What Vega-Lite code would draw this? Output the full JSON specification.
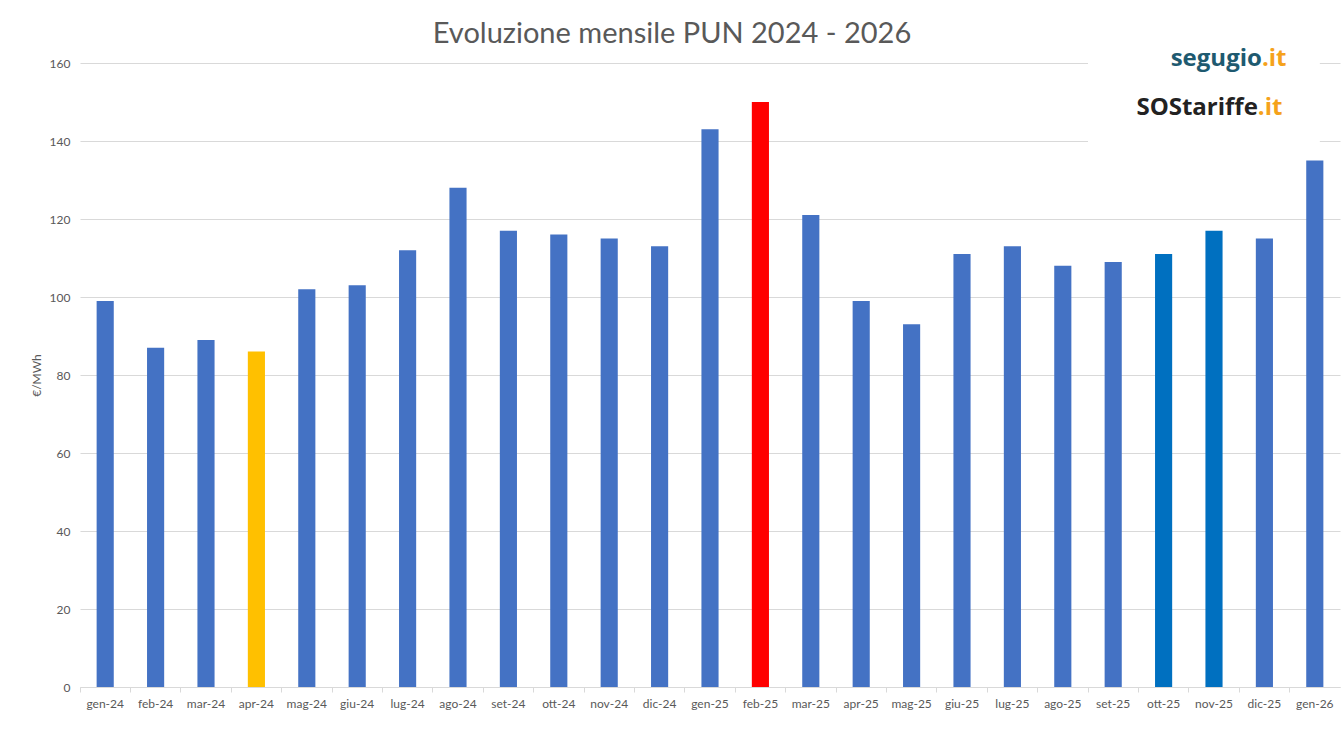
{
  "$schema": "https://vega.github.io/schema/vega-lite/v6.json",
  "autosize": {"type": "none"},
  "width": 1260,
  "height": 624,
  "padding": {"left": 80, "top": 63, "right": 4, "bottom": 49},
  "background": "white",
  "title": {
    "text": "Evoluzione mensile PUN 2024 - 2026",
    "font": "Lato",
    "fontSize": 29,
    "fontWeight": "normal",
    "color": "#595959",
    "anchor": "middle",
    "offset": -9,
    "dx": -38
  },
  "config": {
    "view": {"stroke": null},
    "font": "Lato",
    "axis": {"labelFont": "Lato", "titleFont": "Lato", "labelColor": "#595959", "titleColor": "#595959"}
  },
  "data": {
    "values": [
      {"mese": "gen-24", "pun": 99, "tipo": "base"},
      {"mese": "feb-24", "pun": 87, "tipo": "base"},
      {"mese": "mar-24", "pun": 89, "tipo": "base"},
      {"mese": "apr-24", "pun": 86, "tipo": "minimo"},
      {"mese": "mag-24", "pun": 102, "tipo": "base"},
      {"mese": "giu-24", "pun": 103, "tipo": "base"},
      {"mese": "lug-24", "pun": 112, "tipo": "base"},
      {"mese": "ago-24", "pun": 128, "tipo": "base"},
      {"mese": "set-24", "pun": 117, "tipo": "base"},
      {"mese": "ott-24", "pun": 116, "tipo": "base"},
      {"mese": "nov-24", "pun": 115, "tipo": "base"},
      {"mese": "dic-24", "pun": 113, "tipo": "base"},
      {"mese": "gen-25", "pun": 143, "tipo": "base"},
      {"mese": "feb-25", "pun": 150, "tipo": "massimo"},
      {"mese": "mar-25", "pun": 121, "tipo": "base"},
      {"mese": "apr-25", "pun": 99, "tipo": "base"},
      {"mese": "mag-25", "pun": 93, "tipo": "base"},
      {"mese": "giu-25", "pun": 111, "tipo": "base"},
      {"mese": "lug-25", "pun": 113, "tipo": "base"},
      {"mese": "ago-25", "pun": 108, "tipo": "base"},
      {"mese": "set-25", "pun": 109, "tipo": "base"},
      {"mese": "ott-25", "pun": 111, "tipo": "recente"},
      {"mese": "nov-25", "pun": 117, "tipo": "recente"},
      {"mese": "dic-25", "pun": 115, "tipo": "base"},
      {"mese": "gen-26", "pun": 135, "tipo": "base"}
    ]
  },
  "layer": [
    {
      "mark": {"type": "bar", "width": {"band": 0.34}},
      "encoding": {
        "x": {
          "field": "mese",
          "type": "nominal",
          "sort": null,
          "scale": {"paddingInner": 0, "paddingOuter": 0},
          "axis": {
            "title": null,
            "labelAngle": 0,
            "labelFontSize": 12,
            "bandPosition": 0,
            "domainColor": "#D9D9D9",
            "tickColor": "#D9D9D9",
            "tickSize": 5,
            "labelPadding": 6,
            "grid": false
          }
        },
        "y": {
          "field": "pun",
          "type": "quantitative",
          "scale": {"domain": [0, 160]},
          "axis": {
            "title": "€/MWh",
            "titleFontSize": 12,
            "titleFontWeight": "normal",
            "titlePadding": 6,
            "values": [0, 20, 40, 60, 80, 100, 120, 140, 160],
            "labelFontSize": 12,
            "labelPadding": 10,
            "ticks": false,
            "domain": false,
            "gridColor": "#D9D9D9"
          }
        },
        "color": {
          "field": "tipo",
          "type": "nominal",
          "scale": {
            "domain": ["base", "minimo", "massimo", "recente"],
            "range": ["#4472C4", "#FFC000", "#FF0000", "#0070C0"]
          },
          "legend": null
        }
      }
    },
    {
      "data": {"values": [{}]},
      "mark": {"type": "rect", "fill": "white", "clip": false},
      "encoding": {
        "x": {"datum": "set-25", "bandPosition": 0},
        "x2": {"datum": "gen-26", "bandPosition": 0.6},
        "y": {"datum": 136},
        "y2": {"datum": 166}
      }
    },
    {
      "data": {"values": [{}]},
      "mark": {"type": "text", "text": "segugio", "align": "right", "baseline": "middle", "font": "Open Sans", "fontWeight": "bold", "fontSize": 24, "color": "#1E5A70"},
      "encoding": {
        "x": {"datum": "dic-25", "bandPosition": 0.45},
        "y": {"datum": 161}
      }
    },
    {
      "data": {"values": [{}]},
      "mark": {"type": "text", "text": ".it", "align": "left", "baseline": "middle", "font": "Open Sans", "fontWeight": "bold", "fontSize": 24, "color": "#F5A21B"},
      "encoding": {
        "x": {"datum": "dic-25", "bandPosition": 0.45},
        "y": {"datum": 161}
      }
    },
    {
      "data": {"values": [{}]},
      "mark": {"type": "text", "text": "SOStariffe", "align": "right", "baseline": "middle", "font": "Open Sans", "fontWeight": "bold", "fontSize": 24, "color": "#222222"},
      "encoding": {
        "x": {"datum": "dic-25", "bandPosition": 0.37},
        "y": {"datum": 148.5}
      }
    },
    {
      "data": {"values": [{}]},
      "mark": {"type": "text", "text": ".it", "align": "left", "baseline": "middle", "font": "Open Sans", "fontWeight": "bold", "fontSize": 24, "color": "#F5A21B"},
      "encoding": {
        "x": {"datum": "dic-25", "bandPosition": 0.37},
        "y": {"datum": 148.5}
      }
    }
  ]
}
